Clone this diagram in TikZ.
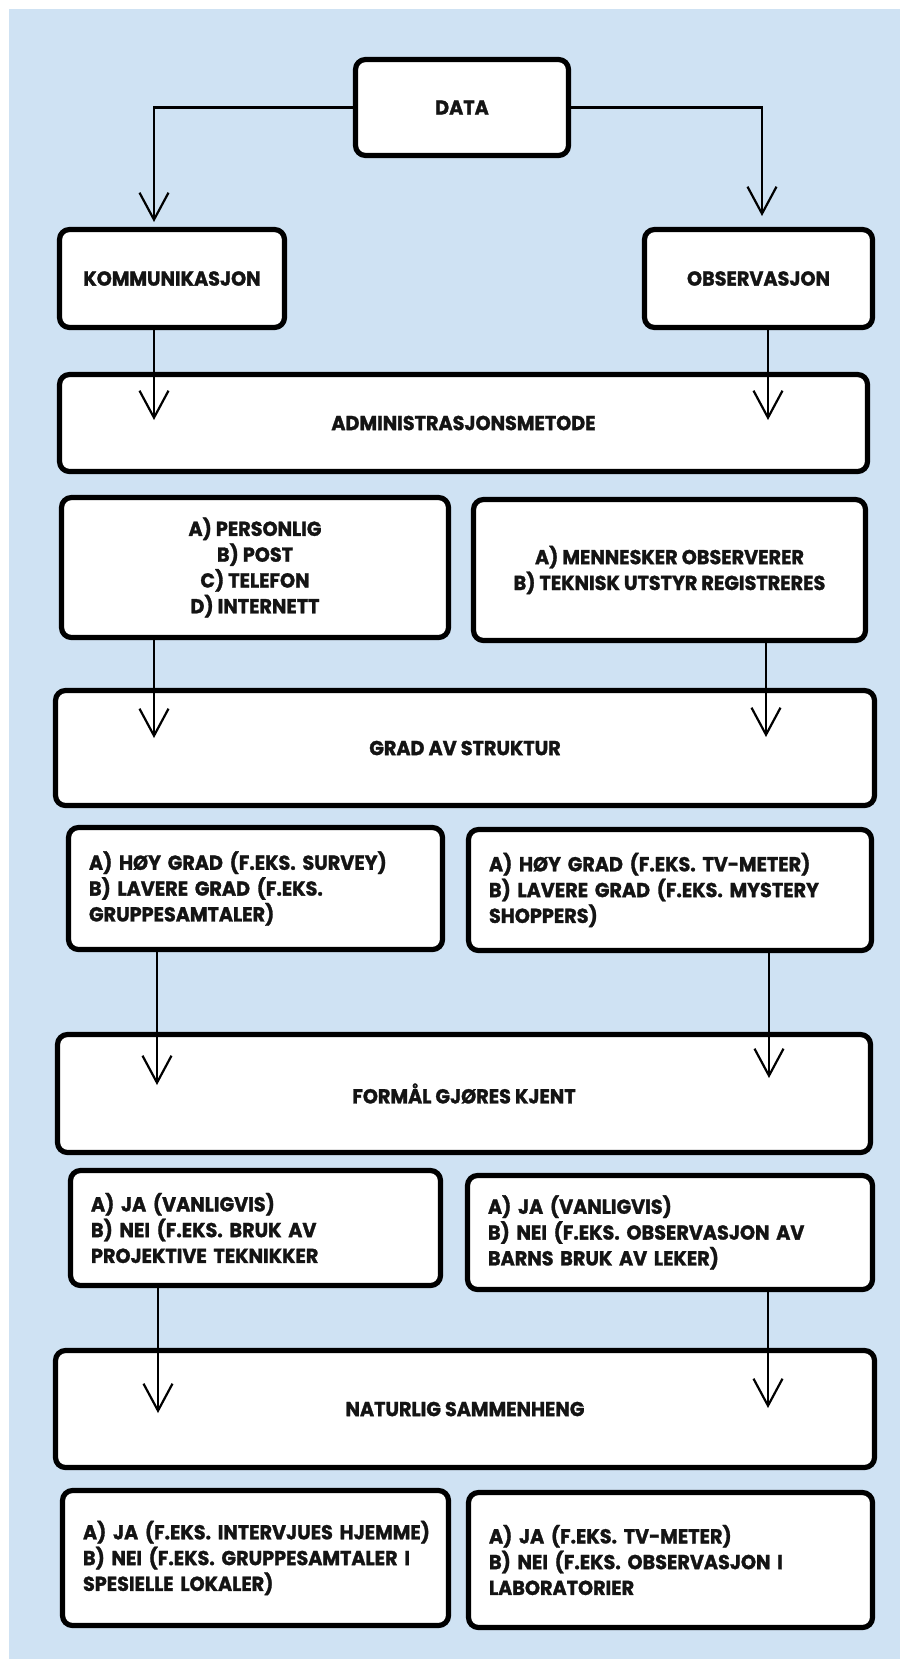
\documentclass[tikz,border=0pt]{standalone}
\usepackage{fontspec}
\setmainfont{Poppins}[FakeStretch=0.95, BoldFeatures={FakeBold=1.4}]
\usetikzlibrary{arrows.meta,calc}
\definecolor{bgblue}{RGB}{207,226,243}
\definecolor{ink}{RGB}{20,20,20}
\begin{document}
\begin{tikzpicture}[x=0.5pt,y=-0.5pt,
  box/.style={draw=black, line width=2.6pt, fill=white, rounded corners=5pt,
    inner sep=0pt, text=ink, align=center,
    font=\bfseries\fontsize{10.1}{12.9}\selectfont},
  lbox/.style={box, align=left},
  arr/.style={line width=1.1pt, draw=black,
    -{Straight Barb[length=13.5pt,width=14.5pt]}}]
\useasboundingbox (0,0) rectangle (900,1659);
\fill[white] (0,0) rectangle (900,1659);
\fill[bgblue] (9,9) rectangle (900,1659);

% top level
\node[box, minimum width=106.5pt, minimum height=48pt] (data) at (462,107.5) {DATA};
\node[box, minimum width=112.5pt, minimum height=49pt] (komm) at (172,278.5) {KOMMUNIKASJON};
\node[box, minimum width=114pt, minimum height=49pt] (obs) at (758.5,278.5) {OBSERVASJON};

% administrasjonsmetode
\node[box, minimum width=404pt, minimum height=48.5pt] (admin) at (463.5,423) {ADMINISTRASJONSMETODE};
\node[box, minimum width=193.5pt, minimum height=70pt] (pers) at (255,567.5)
  {A) PERSONLIG\\B) POST\\C) TELEFON\\D) INTERNETT};
\node[box, minimum width=196pt, minimum height=70.5pt] (menn) at (669.5,570)
  {A) MENNESKER OBSERVERER\\B) TEKNISK UTSTYR REGISTRERES};

% grad av struktur
\node[box, minimum width=409.5pt, minimum height=57.5pt] (grad) at (465,748) {GRAD AV STRUKTUR};
\node[lbox, minimum width=187pt, minimum height=61pt, text width=166.5pt] (hoy1) at (255.5,888.5)
  {A) HØY GRAD (F.EKS. SURVEY)\\B) LAVERE GRAD (F.EKS.\\GRUPPESAMTALER)};
\node[lbox, minimum width=201.5pt, minimum height=60.5pt, text width=181pt] (hoy2) at (670,890)
  {A) HØY GRAD (F.EKS. TV-METER)\\B) LAVERE GRAD (F.EKS. MYSTERY\\SHOPPERS)};

% formål gjøres kjent
\node[box, minimum width=406.5pt, minimum height=59pt] (formal) at (464,1093.5) {FORMÅL GJØRES KJENT};
\node[lbox, minimum width=185pt, minimum height=57.5pt, text width=164.5pt] (ja1) at (255.5,1228)
  {A) JA (VANLIGVIS)\\B) NEI (F.EKS. BRUK AV\\PROJEKTIVE TEKNIKKER};
\node[lbox, minimum width=202.5pt, minimum height=57pt, text width=182pt] (ja2) at (670,1232.5)
  {A) JA (VANLIGVIS)\\B) NEI (F.EKS. OBSERVASJON AV\\BARNS BRUK AV LEKER)};

% naturlig sammenheng
\node[box, minimum width=409.5pt, minimum height=58.5pt] (nat) at (465,1409) {NATURLIG SAMMENHENG};
\node[lbox, minimum width=193pt, minimum height=67.5pt, text width=172.5pt] (bot1) at (255.5,1558)
  {\mbox{A) JA (F.EKS. INTERVJUES HJEMME)}\\\mbox{B) NEI (F.EKS. GRUPPESAMTALER I}\\SPESIELLE LOKALER)};
\node[lbox, minimum width=202pt, minimum height=67.5pt, text width=181.5pt] (bot2) at (670.5,1560)
  {A) JA (F.EKS. TV-METER)\\B) NEI (F.EKS. OBSERVASJON I\\LABORATORIER};

% arrow tips
\coordinate (t1) at (154,222);
\coordinate (t2) at (762,216);
\coordinate (t3) at (154,420);
\coordinate (t4) at (768,420);
\coordinate (t5) at (154,738);
\coordinate (t6) at (766,737);
\coordinate (t7) at (157,1085);
\coordinate (t8) at (769,1078);
\coordinate (t9) at (158,1413);
\coordinate (t10) at (768,1408);

% connectors
\draw[arr] (data.west) -| (t1);
\draw[arr] (data.east) -| (t2);
\draw[arr] (komm.south -| t3) -- (t3);
\draw[arr] (obs.south -| t4) -- (t4);
\draw[arr] (pers.south -| t5) -- (t5);
\draw[arr] (menn.south -| t6) -- (t6);
\draw[arr] (hoy1.south -| t7) -- (t7);
\draw[arr] (hoy2.south -| t8) -- (t8);
\draw[arr] (ja1.south -| t9) -- (t9);
\draw[arr] (ja2.south -| t10) -- (t10);
\end{tikzpicture}
\end{document}
